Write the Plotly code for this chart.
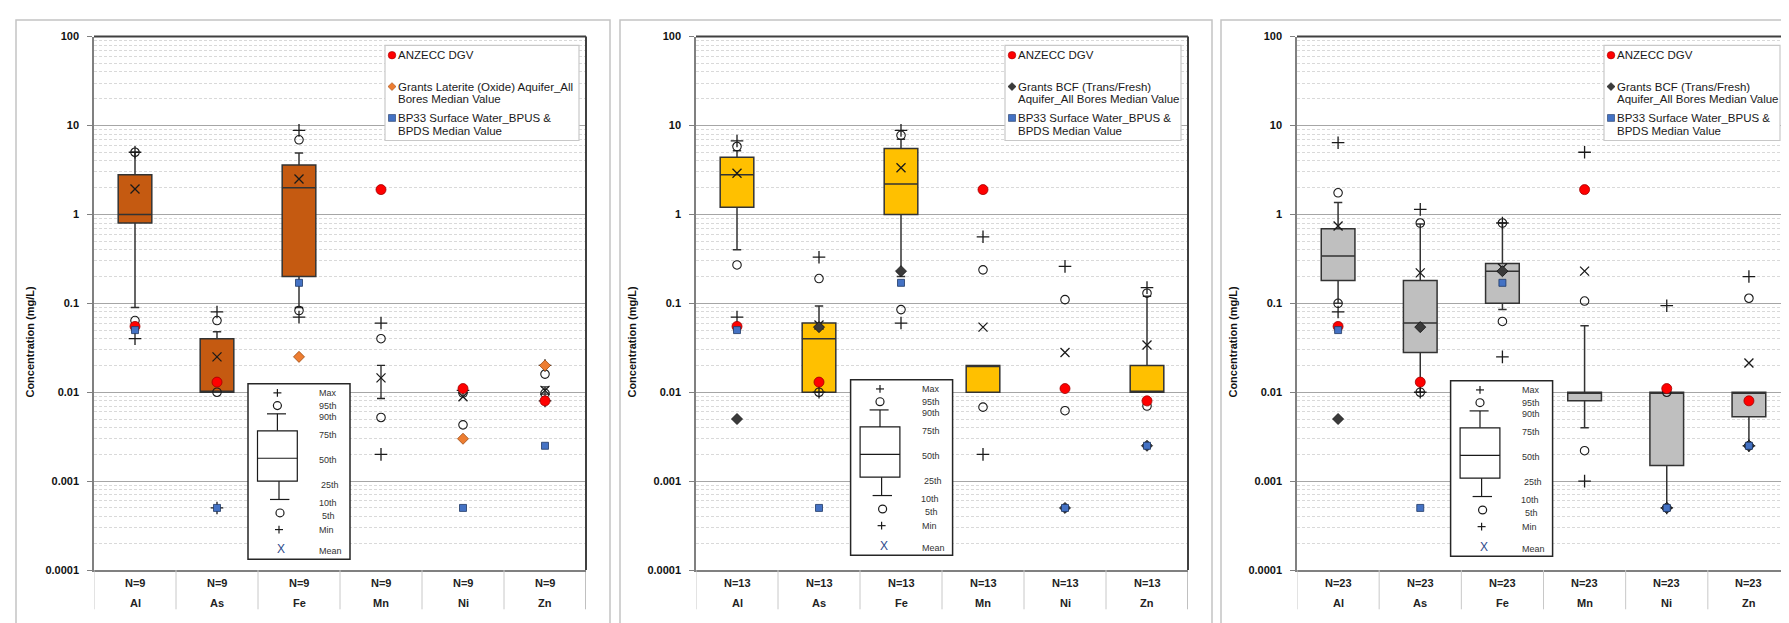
import plotly.graph_objects as go

W, H = 1789, 623

# ---------------- data ----------------
ELEMENTS = ["Al", "As", "Fe", "Mn", "Ni", "Zn"]
PANEL_N = [9, 13, 23]
Y_TICK_VALUES = [0.0001, 0.001, 0.01, 0.1, 1, 10, 100]
Y_TICK_LABELS = ["0.0001", "0.001", "0.01", "0.1", "1", "10", "100"]

ANZECC_DGV = [0.055, 0.013, None, 1.9, 0.011, 0.008]
BP33_MEDIAN = [0.05, 0.0005, 0.17, None, 0.0005, 0.0025]
GRANTS_LATERITE = [None, None, 0.025, None, 0.003, 0.02]
GRANTS_BCF = [0.005, 0.054, 0.23, None, 0.0005, 0.0025]

# Panel 1 - N=9
LAT_Q1 = [0.8, 0.01, 0.2, None, None, None]
LAT_MEDIAN = [1.0, 0.01, 2.0, None, None, None]
LAT_Q3 = [2.8, 0.04, 3.6, None, None, None]
LAT_P10 = [0.09, 0.01, 0.09, 0.0085, None, 0.0095]
LAT_P90 = [5.0, 0.048, 4.9, 0.02, None, 0.0115]
LAT_P5 = [0.064, 0.01, 0.083, 0.0052, 0.0043, 0.0097]
LAT_P95 = [5.0, 0.064, 6.9, 0.04, 0.0098, 0.016]
LAT_MIN = [0.04, 0.0005, 0.07, 0.002, None, 0.008]
LAT_MAX = [5.0, 0.08, 8.8, 0.06, 0.0105, 0.02]
LAT_MEAN = [1.93, 0.025, 2.5, 0.0145, 0.0089, 0.0105]

# Panel 2 - N=13
BCF13_Q1 = [1.2, 0.01, 1.0, 0.01, None, 0.01]
BCF13_MEDIAN = [2.8, 0.04, 2.2, 0.02, None, 0.01]
BCF13_Q3 = [4.4, 0.06, 5.5, 0.02, None, 0.02]
BCF13_P10 = [0.4, 0.01, 0.2, None, None, None]
BCF13_P90 = [5.2, 0.093, 7.0, None, None, 0.12]
BCF13_P5 = [0.27, 0.01, 0.085, 0.0068, 0.0062, 0.007]
BCF13_P95 = [5.8, 0.19, 7.75, 0.238, 0.11, 0.13]
BCF13_MIN = [0.07, 0.01, 0.06, 0.002, None, None]
BCF13_MAX = [6.7, 0.33, 8.8, 0.56, 0.26, 0.15]
BCF13_MEAN = [2.9, 0.057, 3.35, 0.054, 0.028, 0.034]

# Panel 3 - N=23
BCF23_Q1 = [0.18, 0.028, 0.1, 0.008, 0.0015, 0.0053]
BCF23_MEDIAN = [0.34, 0.06, 0.23, 0.01, 0.01, 0.01]
BCF23_Q3 = [0.69, 0.18, 0.28, 0.01, 0.01, 0.01]
BCF23_P10 = [0.1, 0.01, 0.085, 0.004, 0.0005, 0.0025]
BCF23_P90 = [1.36, 0.78, 0.8, 0.056, None, None]
BCF23_P5 = [0.1, 0.01, 0.0625, 0.0022, 0.0005, 0.0025]
BCF23_P95 = [1.75, 0.8, 0.8, 0.106, 0.01, 0.114]
BCF23_MIN = [0.08, 0.01, 0.025, 0.001, 0.0005, 0.0025]
BCF23_MAX = [6.4, 1.14, 0.8, 5.0, 0.094, 0.2]
BCF23_MEAN = [0.74, 0.22, 0.25, 0.23, None, 0.0213]

GRANTS_LABELS = [
    ["Grants Laterite (Oxide) Aquifer_All", "Bores Median Value"],
    ["Grants BCF (Trans/Fresh)", "Aquifer_All Bores Median Value"],
    ["Grants BCF (Trans/Fresh)", "Aquifer_All Bores Median Value"],
]
BP33_LABEL = ["BP33 Surface Water_BPUS &", "BPDS Median Value"]
ANZECC_LABEL = "ANZECC DGV"
Y_TITLE = "Concentration (mg/L)"
KEY_LABELS = ["Max", "95th", "90th", "75th", "50th", "25th", "10th", "5th", "Min", "Mean"]

PANELS = [
    dict(q1=LAT_Q1, med=LAT_MEDIAN, q3=LAT_Q3, p10=LAT_P10, p90=LAT_P90, p5=LAT_P5,
         p95=LAT_P95, mn=LAT_MIN, mx=LAT_MAX, mean=LAT_MEAN, grants=GRANTS_LATERITE),
    dict(q1=BCF13_Q1, med=BCF13_MEDIAN, q3=BCF13_Q3, p10=BCF13_P10, p90=BCF13_P90, p5=BCF13_P5,
         p95=BCF13_P95, mn=BCF13_MIN, mx=BCF13_MAX, mean=BCF13_MEAN, grants=GRANTS_BCF),
    dict(q1=BCF23_Q1, med=BCF23_MEDIAN, q3=BCF23_Q3, p10=BCF23_P10, p90=BCF23_P90, p5=BCF23_P5,
         p95=BCF23_P95, mn=BCF23_MIN, mx=BCF23_MAX, mean=BCF23_MEAN, grants=GRANTS_BCF),
]

# ---------------- styling / layout constants ----------------
BOX_COLORS = ["#C55A11", "#FFC000", "#BFBFBF"]
GRANTS_STYLE = [("#ED7D31", "#9C4A12"), ("#3A3A3A", "#111111"), ("#3A3A3A", "#111111")]
PLOT_LEFT = [86, 688, 1289]
PLOT_RIGHT = [578, 1180, 1782]
PLOT_TOP, PLOT_BOT = 23, 567
FRAMES = [(8, 602), (612, 1204), (1213, 1830)]
LEGEND_LEFT = [377, 997, 1596]
LEGEND_RIGHT = [571, 1173, 1772]
KEY_ORIGIN = [(240, 377), (842.6, 373), (1442.6, 374)]
FONT = "Arial, Liberation Sans, sans-serif"


def P(x):
    return x / W


def Q(y):
    return 1 - y / H


fig = go.Figure()
shapes = []
annotations = []
xs = list(range(len(ELEMENTS)))

for i, pdata in enumerate(PANELS):
    sfx = "" if i == 0 else str(i + 1)
    xa, ya = "x" + sfx, "y" + sfx

    # whiskers for categories drawn without a box
    wx, wy, wminus = [], [], []
    for k in xs:
        if pdata["q1"][k] is None and pdata["p10"][k] is not None and pdata["p90"][k] is not None:
            wx.append(k)
            wy.append(pdata["p90"][k])
            wminus.append(pdata["p90"][k] - pdata["p10"][k])
    if wx:
        fig.add_trace(go.Scatter(
            x=wx, y=wy, mode="markers", xaxis=xa, yaxis=ya, showlegend=False,
            marker=dict(size=1, color="rgba(0,0,0,0)"), hoverinfo="skip",
            error_y=dict(type="data", symmetric=False, array=[0] * len(wx), arrayminus=wminus,
                         color="#262626", thickness=1.3, width=4)))

    # boxes
    bi = [k for k in xs if pdata["q1"][k] is not None]
    fig.add_trace(go.Box(
        x=bi,
        q1=[pdata["q1"][k] for k in bi],
        median=[pdata["med"][k] for k in bi],
        q3=[pdata["q3"][k] for k in bi],
        lowerfence=[pdata["p10"][k] if pdata["p10"][k] is not None else pdata["q1"][k] for k in bi],
        upperfence=[pdata["p90"][k] if pdata["p90"][k] is not None else pdata["q3"][k] for k in bi],
        boxpoints=False, width=0.41, whiskerwidth=0.25,
        fillcolor=BOX_COLORS[i], line=dict(color="#333333", width=1.5),
        xaxis=xa, yaxis=ya, showlegend=False, hoverinfo="skip"))

    # percentile circles
    fig.add_trace(go.Scatter(
        x=xs + xs, y=pdata["p5"] + pdata["p95"], mode="markers", xaxis=xa, yaxis=ya,
        showlegend=False, marker=dict(symbol="circle-open", size=8.5, color="#1a1a1a",
                                      line=dict(width=1.1))))
    # min / max
    fig.add_trace(go.Scatter(
        x=xs + xs, y=pdata["mn"] + pdata["mx"], mode="markers", xaxis=xa, yaxis=ya,
        showlegend=False, marker=dict(symbol="cross-thin-open", size=9, color="#1a1a1a",
                                      line=dict(width=1.3))))
    # mean
    fig.add_trace(go.Scatter(
        x=xs, y=pdata["mean"], mode="markers", xaxis=xa, yaxis=ya,
        showlegend=False, marker=dict(symbol="x-thin-open", size=9, color="#1a1a1a",
                                      line=dict(width=1.3))))
    # grants median
    gfill, gline = GRANTS_STYLE[i]
    fig.add_trace(go.Scatter(
        x=xs, y=pdata["grants"], mode="markers", xaxis=xa, yaxis=ya, showlegend=False,
        marker=dict(symbol="diamond", size=8.5, color=gfill, line=dict(color=gline, width=0.8))))
    # ANZECC
    fig.add_trace(go.Scatter(
        x=xs, y=ANZECC_DGV, mode="markers", xaxis=xa, yaxis=ya, showlegend=False,
        marker=dict(symbol="circle", size=10, color="#FF0000", line=dict(color="#A00000", width=0.8))))
    # BP33
    fig.add_trace(go.Scatter(
        x=xs, y=BP33_MEDIAN, mode="markers", xaxis=xa, yaxis=ya, showlegend=False,
        marker=dict(symbol="square", size=7, color="#4472C4", line=dict(color="#1F3864", width=0.8))))

    L, R = PLOT_LEFT[i], PLOT_RIGHT[i]
    minor_vals = [m * 10 ** e for e in range(-4, 2) for m in range(2, 10)]
    fig.update_layout(**{
        ("xaxis" + sfx): dict(domain=[P(L), P(R)], range=[-0.5, 5.5], showticklabels=False,
                              ticks="", showgrid=False, zeroline=False, showline=True,
                              linecolor="#808080", linewidth=1.5, anchor=ya, fixedrange=True),
        ("yaxis" + sfx): dict(domain=[Q(PLOT_BOT), Q(PLOT_TOP)], type="log", range=[-4, 2],
                              tickmode="array", tickvals=Y_TICK_VALUES, ticktext=Y_TICK_LABELS,
                              tickfont=dict(family=FONT, size=11, color="#111111", weight="bold"),
                              ticks="outside", ticklen=5, tickcolor="#808080", ticklabelstandoff=6,
                              showline=True, linecolor="#808080", linewidth=1.5,
                              showgrid=True, gridcolor="#a6a6a6", gridwidth=1, zeroline=False,
                              minor=dict(tickmode="array", tickvals=minor_vals, showgrid=True,
                                         gridcolor="#d9d9d9", griddash="3px,2px", gridwidth=1,
                                         ticks=""),
                              anchor=xa, fixedrange=True),
    })

    # outer panel frame
    fx0, fx1 = FRAMES[i]
    shapes.append(dict(type="rect", xref="paper", yref="paper", x0=P(fx0), x1=P(fx1),
                       y0=Q(PLOT_TOP - 17), y1=Q(H + 20), line=dict(color="#c4c4c4", width=1.5),
                       fillcolor="rgba(0,0,0,0)", layer="below"))
    # dark top / right plot border
    shapes.append(dict(type="line", xref="paper", yref="paper", x0=P(L), x1=P(R),
                       y0=Q(PLOT_TOP), y1=Q(PLOT_TOP), line=dict(color="#404040", width=2)))
    shapes.append(dict(type="line", xref="paper", yref="paper", x0=P(R), x1=P(R),
                       y0=Q(PLOT_TOP), y1=Q(PLOT_BOT), line=dict(color="#404040", width=2)))
    # category table separators
    for b in range(len(ELEMENTS) + 1):
        shapes.append(dict(type="line", xref=xa, yref="paper", x0=b - 0.5, x1=b - 0.5,
                           y0=Q(PLOT_BOT), y1=Q(607),
                           line=dict(color="#808080" if b == len(ELEMENTS) else "#c8c8c8", width=1)))
    for k, el in enumerate(ELEMENTS):
        annotations.append(dict(x=k, y=Q(580), xref=xa, yref="paper", text="N=%d" % PANEL_N[i],
                                xanchor="center", yanchor="middle",
                                showarrow=False, font=dict(family=FONT, size=11, color="#222222",
                                                           weight="bold")))
        annotations.append(dict(x=k, y=Q(601), xref=xa, yref="paper", text=el,
                                xanchor="center", yanchor="middle",
                                showarrow=False, font=dict(family=FONT, size=11, color="#222222",
                                                           weight="bold")))
    # y title
    annotations.append(dict(x=P(L - 64), y=Q(334), xref="paper", yref="paper", text=Y_TITLE,
                            textangle=-90, showarrow=False, xanchor="center", yanchor="middle",
                            font=dict(family=FONT, size=11, color="#111111", weight="bold")))

    # ---- legend (top right) ----
    lx0, lx1 = LEGEND_LEFT[i], LEGEND_RIGHT[i]
    shapes.append(dict(type="rect", xref="paper", yref="paper", x0=P(lx0), x1=P(lx1),
                       y0=Q(32), y1=Q(129), line=dict(color="#c8c8c8", width=1.2),
                       fillcolor="white", layer="above"))
    mx = lx0 + 7
    tx = lx0 + 11
    shapes.append(dict(type="circle", xref="paper", yref="paper", x0=P(mx - 3.8), x1=P(mx + 3.8),
                       y0=Q(42 + 3.8), y1=Q(42 - 3.8), fillcolor="#FF0000",
                       line=dict(color="#A00000", width=0.6), layer="above"))
    shapes.append(dict(type="path", xref="paper", yref="paper",
                       path="M %f,%f L %f,%f L %f,%f L %f,%f Z" % (
                           P(mx), Q(74 - 4), P(mx + 4), Q(74), P(mx), Q(74 + 4), P(mx - 4), Q(74)),
                       fillcolor=gfill, line=dict(color=gline, width=0.6), layer="above"))
    shapes.append(dict(type="rect", xref="paper", yref="paper", x0=P(mx - 3.5), x1=P(mx + 3.5),
                       y0=Q(106 + 3.5), y1=Q(106 - 3.5), fillcolor="#4472C4",
                       line=dict(color="#1F3864", width=0.6), layer="above"))
    leg_lines = [(ANZECC_LABEL, 42), (GRANTS_LABELS[i][0], 74), (GRANTS_LABELS[i][1], 87),
                 (BP33_LABEL[0], 106), (BP33_LABEL[1], 119)]
    for txt, yy in leg_lines:
        annotations.append(dict(x=P(tx), y=Q(yy), xref="paper", yref="paper", text=txt,
                                xanchor="left", yanchor="middle", showarrow=False,
                                font=dict(family=FONT, size=11.5, color="#1a1a1a")))

    # ---- percentile key box ----
    bx, by = KEY_ORIGIN[i]
    kline = dict(color="#1a1a1a", width=1.2)

    def ln(x0, y0, x1, y1, line=kline):
        shapes.append(dict(type="line", xref="paper", yref="paper", x0=P(bx + x0), x1=P(bx + x1),
                           y0=Q(by + y0), y1=Q(by + y1), line=line, layer="above"))

    shapes.append(dict(type="rect", xref="paper", yref="paper", x0=P(bx), x1=P(bx + 102),
                       y0=Q(by), y1=Q(by + 179), fillcolor="white",
                       line=dict(color="#262626", width=1.5), layer="above"))
    # max +
    ln(25.4, 9.3, 33.4, 9.3)
    ln(29.4, 5.3, 29.4, 13.3)
    # 95th circle
    shapes.append(dict(type="circle", xref="paper", yref="paper", x0=P(bx + 25.4), x1=P(bx + 33.4),
                       y0=Q(by + 26.3), y1=Q(by + 18.3), line=kline, layer="above"))
    # upper whisker
    ln(19, 30.7, 38, 30.7)
    ln(29.4, 30.7, 29.4, 48)
    # box + median
    shapes.append(dict(type="rect", xref="paper", yref="paper", x0=P(bx + 9.5), x1=P(bx + 49.3),
                       y0=Q(by + 48), y1=Q(by + 99.3), fillcolor="white", line=kline, layer="above"))
    ln(9.5, 76, 49.3, 76)
    # lower whisker
    ln(31, 99.3, 31, 118)
    ln(22, 118, 41.4, 118)
    # 5th circle
    shapes.append(dict(type="circle", xref="paper", yref="paper", x0=P(bx + 28), x1=P(bx + 36),
                       y0=Q(by + 135.7), y1=Q(by + 127.7), line=kline, layer="above"))
    # min +
    ln(27, 148.7, 35, 148.7)
    ln(31, 144.7, 31, 152.7)
    annotations.append(dict(x=P(bx + 33), y=Q(by + 169), xref="paper", yref="paper", text="X",
                            showarrow=False, xanchor="center", yanchor="middle",
                            font=dict(family=FONT, size=12, color="#2E4A8B")))
    key_y = [9.5, 22.5, 34, 52, 77.7, 103, 122, 134.7, 148.7, 171]
    key_x = [69, 69, 69, 69, 69, 71, 68.5, 72, 69, 69]
    for lab, kx, ky in zip(KEY_LABELS, key_x, key_y):
        annotations.append(dict(x=P(bx + kx), y=Q(by + ky), xref="paper", yref="paper", text=lab,
                                xanchor="left", yanchor="middle", showarrow=False,
                                font=dict(family=FONT, size=9, color="#333333")))

fig.update_layout(
    width=W, height=H, margin=dict(l=0, r=0, t=0, b=0),
    paper_bgcolor="white", plot_bgcolor="white", showlegend=False,
    shapes=shapes, annotations=annotations,
    font=dict(family=FONT),
)

fig.write_html("out.html", config={"displayModeBar": False})
